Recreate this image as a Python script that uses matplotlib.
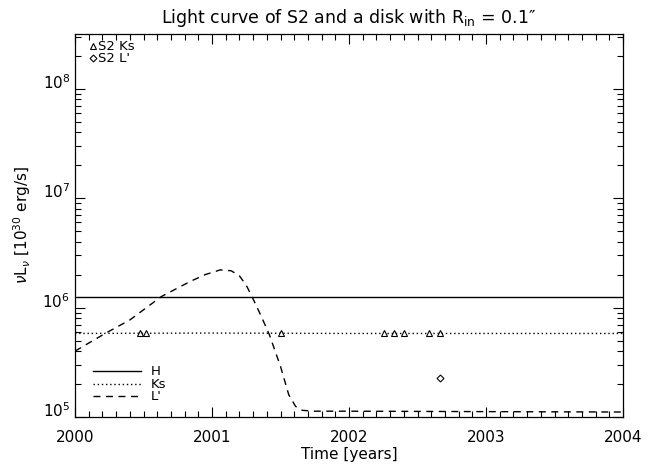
import numpy as np
import matplotlib
matplotlib.use("Agg")
import matplotlib.pyplot as plt
from matplotlib.ticker import MultipleLocator, LogLocator, NullFormatter, FixedLocator

# ---- data ----
H_level = 1.26e6
ks_years = [2000.0, 2001.0, 2002.0, 2003.0, 2004.0]
ks_level = [5.8e5, 5.85e5, 5.8e5, 5.8e5, 5.8e5]

lp_years = [2000.00, 2000.22, 2000.40, 2000.63, 2000.84, 2000.95, 2001.06, 2001.14,
            2001.20, 2001.25, 2001.30, 2001.36, 2001.42, 2001.50, 2001.56, 2001.61,
            2001.66, 2001.75, 2002.0, 2003.0, 2004.0]
lp_vals = [4.0e5, 5.8e5, 7.7e5, 1.26e6, 1.73e6, 2.0e6, 2.21e6, 2.17e6,
           1.95e6, 1.6e6, 1.2e6, 8.3e5, 5.6e5, 2.9e5, 1.6e5, 1.25e5,
           1.15e5, 1.13e5, 1.13e5, 1.12e5, 1.11e5]

s2_ks_years = [2000.476, 2000.515, 2001.500, 2002.252, 2002.331, 2002.404, 2002.582, 2002.661]
s2_ks_vals = [5.8e5] * 8
s2_lp_years = [2002.666]
s2_lp_vals = [2.27e5]

y_major = [1e5, 1e6, 1e7, 1e8]

fig = plt.figure(figsize=(6.64, 4.65), dpi=100)
ax = fig.add_axes([75/664, 1-417/465, (623-75)/664, (417-34)/465])

ax.axhline(H_level, color='black', lw=1.0, ls='-')
ax.plot(ks_years, ks_level, color='black', lw=1.0, ls=(0, (1, 2)))
ax.plot(lp_years, lp_vals, color='black', lw=1.0, ls=(0, (5, 4)))

ax.plot(s2_ks_years, s2_ks_vals, ls='none', marker='^', ms=5, mfc='white', mec='black', mew=0.8)
ax.plot(s2_lp_years, s2_lp_vals, ls='none', marker='D', ms=3.5, mfc='white', mec='black', mew=0.8)

ax.set_yscale('log')
ax.set_xlim(2000, 2004)
ax.set_ylim(1e5, 10**8.5)

ax.xaxis.set_major_locator(MultipleLocator(1))
ax.xaxis.set_minor_locator(MultipleLocator(0.1))
ax.xaxis.set_major_formatter(matplotlib.ticker.FuncFormatter(lambda v, p: f"{int(round(v))}"))
ax.yaxis.set_major_locator(FixedLocator(y_major))
ax.yaxis.set_minor_locator(LogLocator(base=10, subs=np.arange(2, 10), numticks=20))
ax.yaxis.set_minor_formatter(NullFormatter())

ax.tick_params(which='both', direction='in', top=True, right=True, labelsize=11)
ax.tick_params(which='major', length=7, width=0.8)
ax.tick_params(which='minor', length=4, width=0.8)
ax.tick_params(axis='x', which='major', pad=9)
for s in ax.spines.values():
    s.set_linewidth(0.9)

for lab in ax.get_yticklabels():
    lab.set_verticalalignment('baseline')

ax.set_title("Light curve of S2 and a disk with R$_{\\rm in}$ = 0.1\u2033", fontsize=12.5, pad=8)
ax.set_xlabel("Time [years]", fontsize=11, labelpad=2)
ax.set_ylabel(r"$\nu$L$_\nu$ [10$^{30}$ erg/s]", fontsize=11)
ax.yaxis.set_label_coords(-0.077, 0.5)

# upper-left symbol legend
ax.plot([2000.13], [10**8.39], marker='^', ms=5, mfc='white', mec='black', mew=0.8)
ax.text(2000.17, 10**8.39, "S2 Ks", fontsize=9.5, va='center', ha='left')
ax.plot([2000.13], [10**8.28], marker='D', ms=3.5, mfc='white', mec='black', mew=0.8)
ax.text(2000.17, 10**8.28, "S2 L'", fontsize=9.5, va='center', ha='left')

# lower-left line legend
xl = [2000.13, 2000.48]
for yv, ls, lab in [(10**5.42, '-', 'H'), (10**5.30, (0, (1, 2)), 'Ks'), (10**5.19, (0, (5, 4)), "L'")]:
    ax.plot(xl, [yv, yv], color='black', lw=1.0, ls=ls)
    ax.text(2000.55, yv, lab, fontsize=9.5, va='center', ha='left')

fig.savefig("out.png", dpi=100)
